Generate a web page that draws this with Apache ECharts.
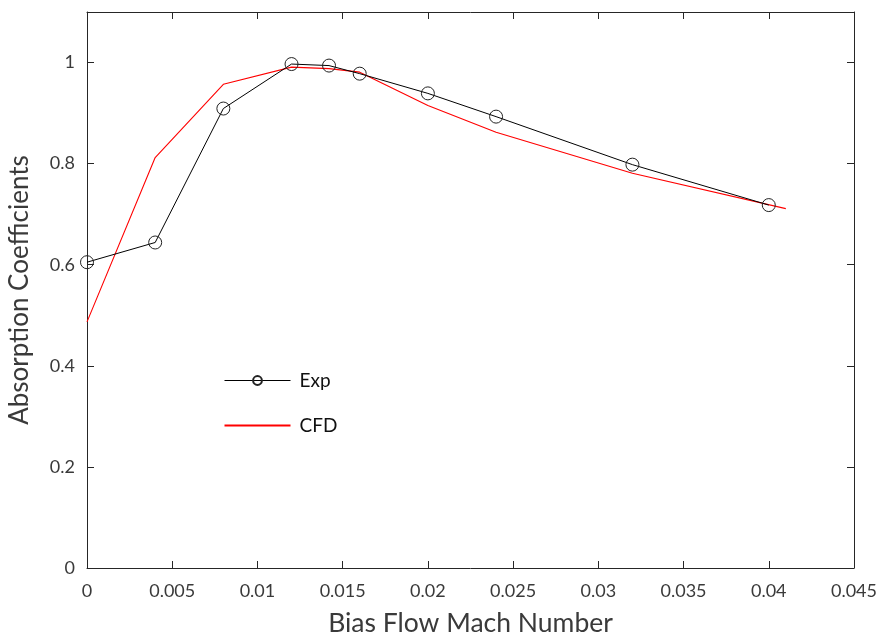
<!DOCTYPE html>
<html>
<head>
<meta charset="utf-8">
<script src="https://cdn.jsdelivr.net/npm/echarts@6/dist/echarts.min.js"></script>
<style>
  html, body { margin: 0; padding: 0; background: #fff; }
  #chart { width: 885px; height: 639px; }
</style>
</head>
<body>
<div id="chart"></div>
<script>
// Measured absorption coefficients vs bias flow Mach number
const expMach = [0, 0.004, 0.008, 0.012, 0.0142, 0.016, 0.020, 0.024, 0.032, 0.040];
const expAbs  = [0.605, 0.644, 0.909, 0.997, 0.994, 0.978, 0.939, 0.893, 0.798, 0.718];

// CFD prediction
const cfdMach = [0, 0.004, 0.008, 0.012, 0.0142, 0.016, 0.020, 0.024, 0.032, 0.041];
const cfdAbs  = [0.487, 0.812, 0.957, 0.991, 0.988, 0.981, 0.915, 0.862, 0.781, 0.711];

const seriesNames = ['Exp', 'CFD'];
const xTitle = 'Bias Flow Mach Number';
const yTitle = 'Absorption Coefficients';

const FONT = 'Lato';
const AXIS_COLOR = '#262626';
const TEXT_COLOR = '#3a3a3a';

const pairs = (xs, ys) => xs.map((x, i) => [x, ys[i]]);
const fmt = v => String(+(+v).toFixed(4));

const chart = echarts.init(document.getElementById('chart'), null, { renderer: 'canvas' });

const axisLine = { show: true, onZero: false, lineStyle: { color: AXIS_COLOR, width: 1 } };
const axisTick = { show: true, inside: true, length: 7, lineStyle: { color: AXIS_COLOR, width: 1 } };

chart.setOption({
  animation: false,
  backgroundColor: '#fff',
  grid: { left: 87, right: 31, top: 12, bottom: 71, containLabel: false, outerBoundsMode: 'none' },
  legend: {
    orient: 'vertical',
    left: 219,
    top: 366,
    itemWidth: 66,
    itemHeight: 11,
    itemGap: 26,
    lineStyle: { width: 1 },
    data: [
      { name: seriesNames[0] },
      { name: seriesNames[1], icon: 'path://M0,0H66V2H0Z' }
    ],
    textStyle: { fontFamily: FONT, fontSize: 19, color: '#111', padding: [0, 0, 0, 4] }
  },
  xAxis: [
    {
      type: 'value', position: 'bottom',
      min: 0, max: 0.045, interval: 0.005,
      name: xTitle, nameLocation: 'middle', nameGap: 42,
      nameTextStyle: { fontFamily: FONT, fontSize: 26.5, color: TEXT_COLOR },
      axisLine, axisTick,
      axisLabel: { formatter: fmt, fontFamily: FONT, fontSize: 18, color: TEXT_COLOR, margin: 14 },
      splitLine: { show: false }
    },
    {
      type: 'value', position: 'top',
      min: 0, max: 0.045, interval: 0.005,
      axisLine, axisTick,
      axisLabel: { show: false },
      splitLine: { show: false }
    }
  ],
  yAxis: [
    {
      type: 'value', position: 'left',
      min: 0, max: 1.1, interval: 0.2,
      name: yTitle, nameLocation: 'middle', nameGap: 54,
      nameTextStyle: { fontFamily: FONT, fontSize: 26, color: TEXT_COLOR },
      axisLine, axisTick,
      axisLabel: {
        formatter: v => (Math.abs(v - 1.1) < 1e-9 ? '' : fmt(v)),
        fontFamily: FONT, fontSize: 18, color: TEXT_COLOR, margin: 12
      },
      splitLine: { show: false }
    },
    {
      type: 'value', position: 'right',
      min: 0, max: 1.1, interval: 0.2,
      axisLine, axisTick,
      axisLabel: { show: false },
      splitLine: { show: false }
    }
  ],
  series: [
    {
      name: seriesNames[0],
      type: 'line',
      data: pairs(expMach, expAbs),
      symbol: 'circle',
      symbolSize: 13,
      showAllSymbol: true,
      lineStyle: { color: '#000', width: 1 },
      itemStyle: { color: 'rgba(0,0,0,0)', borderColor: '#222', borderWidth: 1 },
      z: 3
    },
    {
      name: seriesNames[1],
      type: 'line',
      data: pairs(cfdMach, cfdAbs),
      symbol: 'none',
      lineStyle: { color: '#ff0000', width: 1.1 },
      itemStyle: { color: '#ff0000' },
      z: 2
    }
  ]
});
</script>
</body>
</html>
